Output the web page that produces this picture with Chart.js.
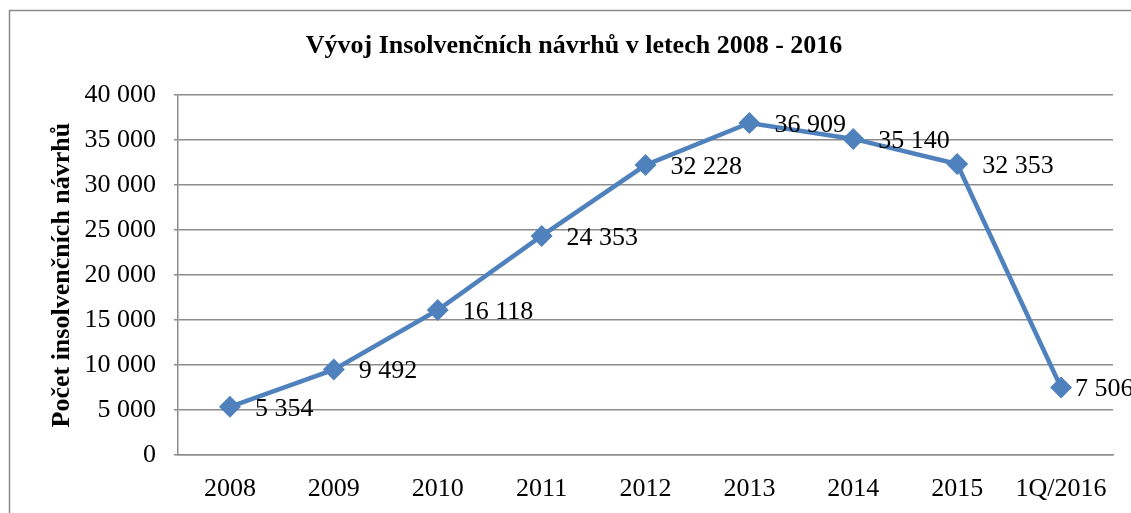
<!DOCTYPE html>
<html>
<head>
<meta charset="utf-8">
<script src="https://cdn.jsdelivr.net/npm/chart.js@4/dist/chart.umd.min.js"></script>
<style>
    html, body { margin: 0; padding: 0; background: #fff; }
    #wrap { width: 1131px; height: 513px; }
</style>
</head>
<body>
<div id="wrap"><canvas id="insChart"></canvas></div>
<script>
// data
const years = ["2008", "2009", "2010", "2011", "2012", "2013", "2014", "2015", "1Q/2016"];
const proposals = [5354, 9492, 16118, 24353, 32228, 36909, 35140, 32353, 7506];
const yTicks = [0, 5000, 10000, 15000, 20000, 25000, 30000, 35000, 40000];

const chartTitle = "Vývoj Insolvenčních návrhů v letech 2008 - 2016";
const yTitle = "Počet insolvenčních návrhů";

const serif = "'Liberation Serif', 'Times New Roman', serif";
const gridGray = "#8c8c8c";

// "32228" -> "32 228"
function spaced(v) {
    return String(v).replace(/\B(?=(\d{3})+(?!\d))/g, " ");
}

// outer frame + white background
const framePlugin = {
    id: "frame",
    beforeDraw(chart) {
        const ctx = chart.ctx;
        ctx.save();
        ctx.fillStyle = "#fff";
        ctx.fillRect(0, 0, chart.width, chart.height);
        ctx.strokeStyle = "#8a8a8a";
        ctx.lineWidth = 1.5;
        ctx.strokeRect(9.5, 10.5, chart.width + 50, chart.height + 50);
        ctx.restore();
    }
};

// value labels to the right of each point
const valueLabels = {
    id: "valueLabels",
    afterDatasetsDraw(chart) {
        const ctx = chart.ctx;
        const meta = chart.getDatasetMeta(0);
        const last = meta.data.length - 1;
        ctx.save();
        ctx.font = "26px " + serif;
        ctx.fillStyle = "#000";
        ctx.textAlign = "left";
        ctx.textBaseline = "middle";
        meta.data.forEach((pt, i) => {
            // the last label sits closer to its marker, like in the original
            const dx = i === last ? 14 : 25;
            ctx.fillText(spaced(proposals[i]), pt.x + dx, pt.y + 2);
        });
        ctx.restore();
    }
};

const ctx = document.getElementById("insChart").getContext("2d");
new Chart(ctx, {
    type: "line",
    data: {
        labels: years,
        datasets: [{
            label: yTitle,
            data: proposals,
            borderColor: "#4F81BD",
            backgroundColor: "#4F81BD",
            borderWidth: 4.5,
            pointStyle: "rectRot",
            pointRadius: 11,
            pointHoverRadius: 11,
            pointBorderWidth: 0,
            fill: false,
            tension: 0
        }]
    },
    options: {
        responsive: true,
        maintainAspectRatio: false,
        animation: false,
        layout: {
            padding: { left: 35, right: 18, top: 0, bottom: 0 }
        },
        plugins: {
            legend: { display: false },
            tooltip: { enabled: false },
            title: {
                display: true,
                text: chartTitle,
                color: "#000",
                font: { family: serif, size: 26, weight: "bold" },
                padding: { top: 31, bottom: 33 }
            }
        },
        scales: {
            x: {
                offset: true,
                grid: { display: false, drawTicks: false },
                border: { display: true, color: gridGray, width: 1.5 },
                ticks: {
                    color: "#000",
                    font: { family: serif, size: 26 },
                    padding: 19,
                    maxRotation: 0,
                    autoSkip: false
                },
                afterFit(scale) { scale.height = 58; }
            },
            y: {
                min: 0,
                max: 40000,
                afterBuildTicks(scale) {
                    scale.ticks = yTicks.map(v => ({ value: v }));
                },
                grid: {
                    color: gridGray,
                    lineWidth: 1.5,
                    tickLength: 4,
                    tickColor: gridGray
                },
                border: { display: true, color: gridGray, width: 1.5 },
                ticks: {
                    color: "#000",
                    font: { family: serif, size: 26 },
                    padding: 18,
                    callback: v => spaced(v)
                },
                title: {
                    display: true,
                    text: yTitle,
                    color: "#000",
                    font: { family: serif, size: 26, weight: "bold" },
                    padding: { top: 12, bottom: 0 }
                },
                afterFit(scale) { scale.width = 143; }
            }
        }
    },
    plugins: [framePlugin, valueLabels]
});
</script>
</body>
</html>
